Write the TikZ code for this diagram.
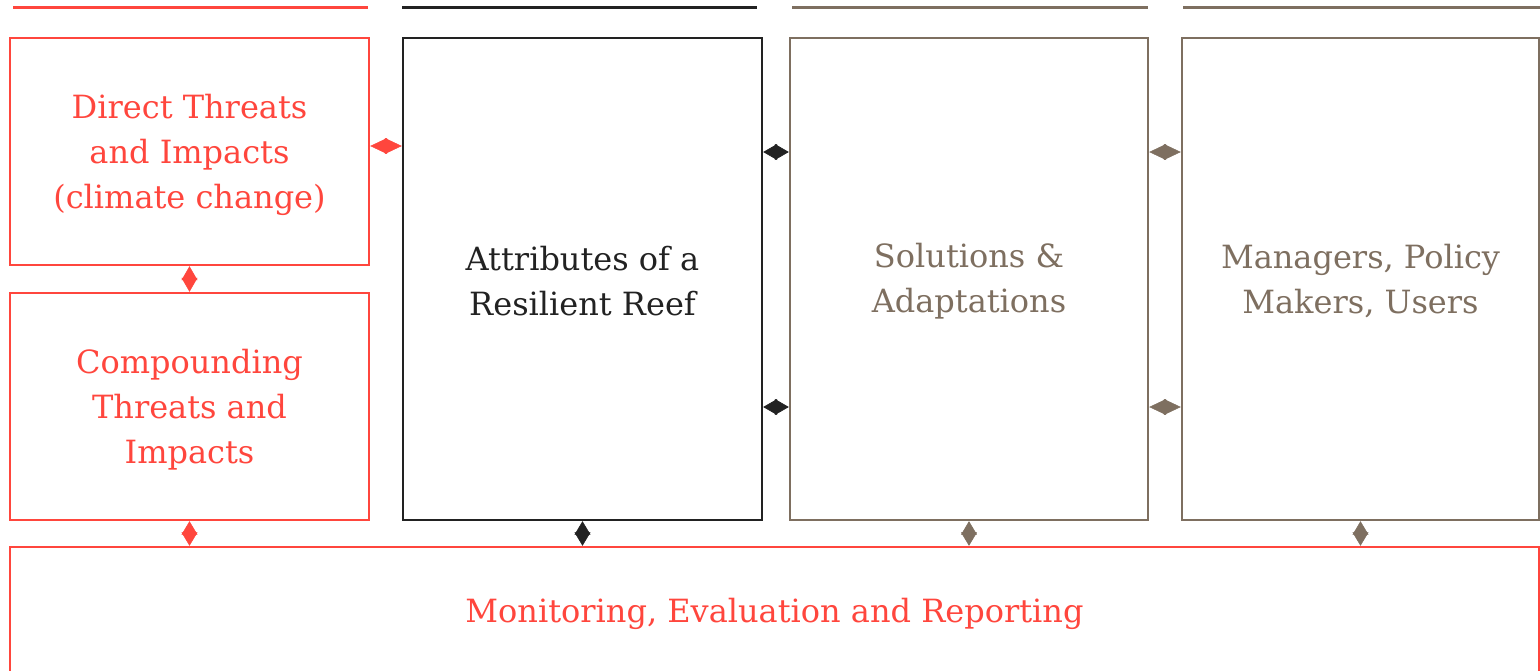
\documentclass[tikz,border=0pt]{standalone}
\usepackage{fontspec}
\setmainfont{DejaVu Serif}
\usetikzlibrary{arrows.meta,calc}
\definecolor{cred}{HTML}{FF463D}
\definecolor{cblack}{HTML}{222222}
\definecolor{cgray}{HTML}{7E6F60}
\tikzset{
  box/.style={draw=#1, line width=2.4pt, rectangle, inner sep=0pt},
  txt/.style={text=#1, align=center, inner sep=0pt, font=\fontsize{32}{45}\selectfont},
  topbar/.style={draw=#1, line width=3pt},
  dia/.style 2 args={draw=#1, fill=#1, line width=0.6pt,
    {Triangle[length=#2,width=16pt]}-{Triangle[length=#2,width=16pt]}}
}
\begin{document}
\begin{tikzpicture}[x=1pt,y=-1pt]
\useasboundingbox (0,0) rectangle (1540,670);
% top bars
\draw[topbar=cred] (13,7) -- (368,7);
\draw[topbar=cblack] (402,7) -- (757,7);
\draw[topbar=cgray] (792,7) -- (1148,7);
\draw[topbar=cgray] (1183,7) -- (1540,7);
% boxes
\node[box=cred, minimum width=359pt, minimum height=227pt] (b1) at (189.5,151.5) {};
\node[box=cred, minimum width=359pt, minimum height=227pt] (b2) at (189.5,406.5) {};
\node[box=cblack, minimum width=359pt, minimum height=482pt] (b3) at (582.5,279) {};
\node[box=cgray, minimum width=358pt, minimum height=482pt] (b4) at (969,279) {};
\node[box=cgray, minimum width=357pt, minimum height=482pt] (b5) at (1360.5,279) {};
\node[box=cred, minimum width=1529pt, minimum height=130pt] (mon) at (774.5,612) {};
% texts
\node[txt=cred] (t1) at ([yshift=-3pt]b1.center) {Direct Threats\\and Impacts\\(climate change)};
\node[txt=cred] (t2) at ([yshift=-3pt]b2.center) {Compounding\\Threats and\\Impacts};
\node[txt=cblack] (t3) at ([yshift=-2pt]b3.center) {Attributes of a\\Resilient Reef};
\node[txt=cgray] (t4) at ([yshift=-2pt]b4.center) {Solutions \&\\Adaptations};
\node[txt=cgray] (t5) at ([yshift=-2pt]b5.center) {Managers, Policy\\Makers, Users};
\node[txt=cred] (t6) at ([yshift=-2pt]mon.center) {Monitoring, Evaluation and Reporting};
% horizontal connectors
\draw[dia={cred}{17pt}] ([yshift=5.5pt]b1.east) -- ([yshift=5.5pt]b1.east -| b3.west);
\draw[dia={cblack}{14pt}] ([yshift=127pt]b3.east) -- ([yshift=127pt]b3.east -| b4.west);
\draw[dia={cblack}{14pt}] ([yshift=-128pt]b3.east) -- ([yshift=-128pt]b3.east -| b4.west);
\draw[dia={cgray}{17pt}] ([yshift=127pt]b4.east) -- ([yshift=127pt]b4.east -| b5.west);
\draw[dia={cgray}{17pt}] ([yshift=-128pt]b4.east) -- ([yshift=-128pt]b4.east -| b5.west);
% vertical connectors
\draw[dia={cred}{14pt}] (b1.south) -- (b2.north);
\draw[dia={cred}{13.5pt}] (b2.south) -- (b2.south |- mon.north);
\draw[dia={cblack}{13.5pt}] (b3.south) -- (b3.south |- mon.north);
\draw[dia={cgray}{13.5pt}] (b4.south) -- (b4.south |- mon.north);
\draw[dia={cgray}{13.5pt}] (b5.south) -- (b5.south |- mon.north);
\end{tikzpicture}
\end{document}
